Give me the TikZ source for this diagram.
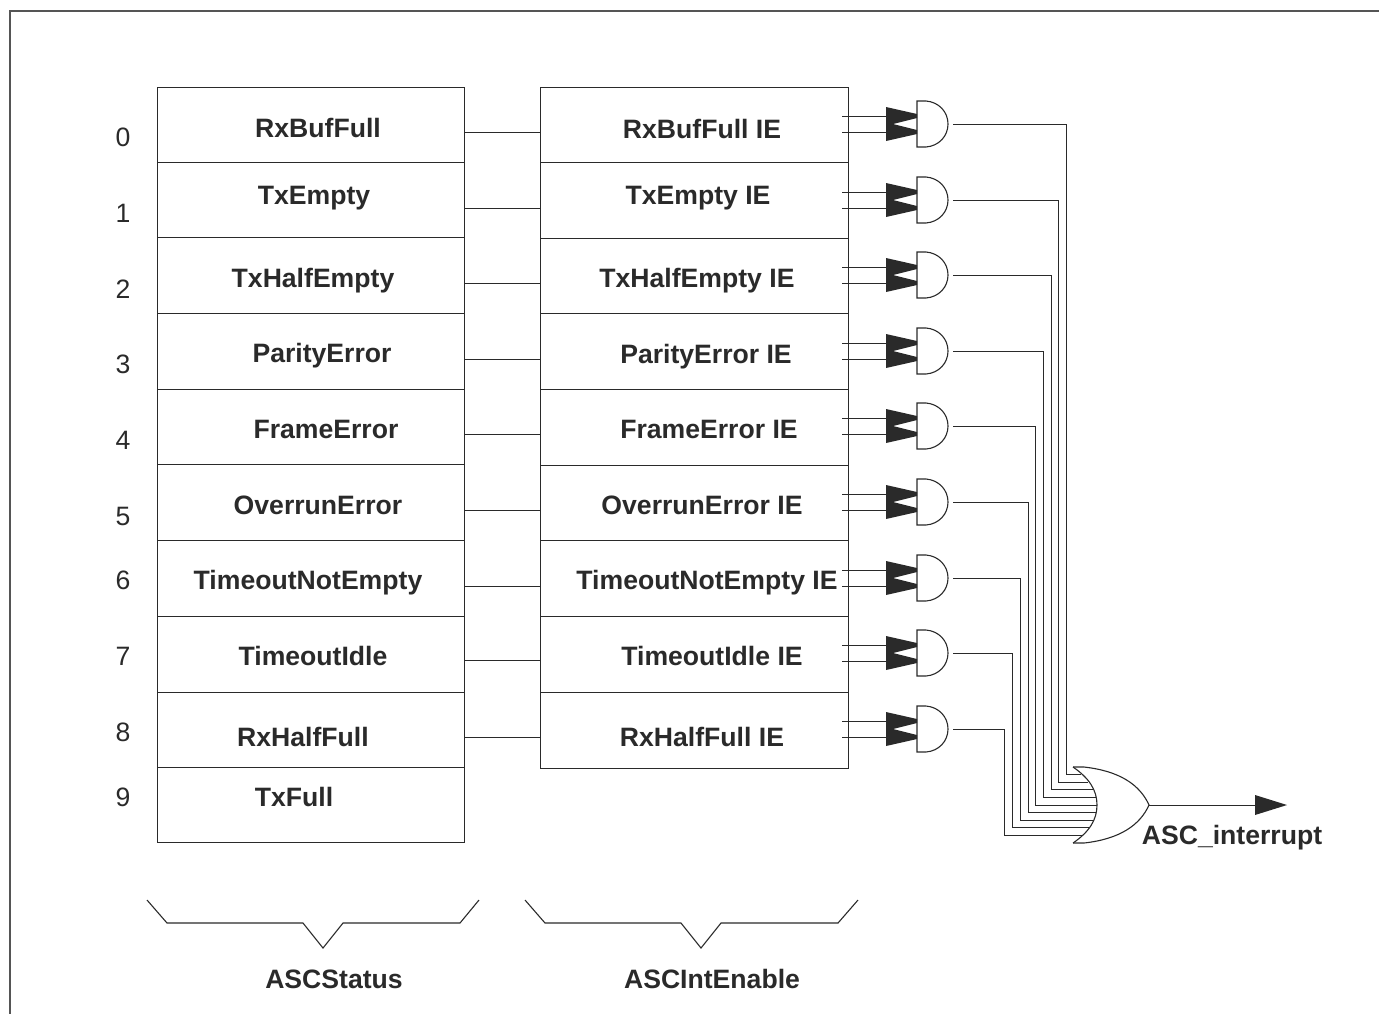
\documentclass[tikz,border=0pt]{standalone}
\usepackage{fontspec}
\setmainfont{Liberation Sans}
\usetikzlibrary{fit}
\definecolor{ink}{HTML}{2A2A2A}
\tikzset{
  wire/.style={draw=ink,line width=0.42pt},
  frameline/.style={draw=ink!80,line width=0.7pt},
  cell/.style={draw=ink,line width=0.45pt,inner sep=0pt,rectangle},
  lbl/.style={text=ink,font=\fontsize{13.3}{15}\selectfont\bfseries,anchor=base,inner sep=0pt},
  num/.style={text=ink,font=\fontsize{13.3}{15}\selectfont,anchor=base,inner sep=0pt},
  gatebox/.style={rectangle,minimum width=18pt,minimum height=23pt,inner sep=0pt},
  tri/.style={fill=ink,draw=none},
  gateline/.style={draw=ink,line width=0.55pt},
  bracket/.style={draw=ink,line width=0.55pt,line join=miter}
}
\begin{document}
\begin{tikzpicture}[x=0.5pt,y=-0.5pt]
\useasboundingbox (0,0) rectangle (1379,1014);
\draw[frameline] (1379,11) -- (10,11) -- (10,1014);
% status register
\foreach \k/\t/\b/\ty/\tx/\n/\ny in {
 0/87/162/137.5/318/RxBufFull/146.5,
 1/162/237/204.5/314/TxEmpty/222.5,
 2/237/313/287.5/313/TxHalfEmpty/298.5,
 3/313/389/362.5/322/ParityError/373.5,
 4/389/464/438.5/326/FrameError/449.5,
 5/464/540/514.5/318/OverrunError/525.5,
 6/540/616/589.5/308/TimeoutNotEmpty/589.5,
 7/616/692/665.5/313/TimeoutIdle/665.5,
 8/692/767/746.5/303/RxHalfFull/741.5,
 9/767/842/806.5/294/TxFull/806.5}{
  \node[cell,fit={(157,\t) (464,\b)}] (s\k) {};
  \node[lbl] (sl\k) at (\tx,\ty) {\n};
  \node[num] (n\k) at (123,\ny) {\k};
}
% enable register
\foreach \k/\t/\b/\ty/\tx/\n in {
 0/87/162/138.5/702/RxBufFull IE,
 1/162/238/204.5/698/TxEmpty IE,
 2/238/313/287.5/697/TxHalfEmpty IE,
 3/313/389/363.5/706/ParityError IE,
 4/389/465/438.5/709/FrameError IE,
 5/465/540/514.5/702/OverrunError IE,
 6/540/616/589.5/707/TimeoutNotEmpty IE,
 7/616/692/665.5/712/TimeoutIdle IE,
 8/692/768/746.5/702/RxHalfFull IE}{
  \node[cell,fit={(540,\t) (848,\b)}] (a\k) {};
  \node[lbl] (al\k) at (\tx,\ty) {\n};
}
% OR gate
\node[rectangle,minimum width=38pt,minimum height=38pt,inner sep=0pt] (or) at (1111,805) {};
\coordinate (ortip) at (1149,805);
\draw[gateline] (1073,767) .. controls (1089,778) and (1097,790) .. (1097,805)
   .. controls (1097,820) and (1089,832) .. (1073,843);
\draw[gateline] (1073,767) -- (1084,767) .. controls (1120,771) and (1140,785) .. (ortip)
   .. controls (1140,825) and (1120,839) .. (1084,843) -- (1073,843);
% AND gates, connectors
\foreach \k/\y/\c/\vx/\oy/\ex in {
 0/124/132/1066/774/1081,
 1/200/208/1058/782/1088,
 2/275/283/1051/789/1093,
 3/351/359/1043/797/1096,
 4/426/434/1035/805/1097,
 5/502/510/1028/812/1096,
 6/578/586/1020/820/1093,
 7/653/660/1012/827/1089,
 8/729/737/1004/835/1082}{
  \coordinate (c\k) at (500,\c);
  \draw[wire] (s\k.east |- c\k) -- (a\k.west |- c\k);
  \node[gatebox] (g\k) at (935,\y) {};
  \coordinate (i\k a) at (842,\y-8);
  \coordinate (i\k b) at (842,\y+8);
  \coordinate (p\k a) at (917,\y-8);
  \coordinate (p\k b) at (917,\y+8);
  \draw[wire] (i\k a) -- (p\k a);
  \draw[wire] (i\k b) -- (p\k b);
  \fill[tri] (886,\y-17) -- (917,\y-10) -- (917,\y-6) -- (893,\y)
     -- (917,\y+6) -- (917,\y+10) -- (886,\y+17) -- cycle;
  \draw[gateline] (926,\y-23) -- (917,\y-23) -- (917,\y+23) -- (926,\y+23)
     .. controls (939,\y+22) and (948,\y+12) .. (948,\y)
     .. controls (948,\y-12) and (939,\y-22) .. (926,\y-23);
  \coordinate (bend\k) at (\vx,\oy);
  \coordinate (end\k) at (\ex,\oy);
  \draw[wire] (g\k.east) -| (bend\k) -- (end\k);
}
% output
\coordinate (outp) at (1256,805);
\coordinate (outend) at (1287,805);
\draw[wire] (ortip) -- (outp);
\fill[tri] (1255,795) -- (outend) -- (1255,815) -- cycle;
\node[lbl] (asci) at (1232,844) {ASC\_interrupt};
% brackets
\coordinate (b1) at (147,900);
\coordinate (b2) at (525,900);
\draw[bracket] (b1) -- (167,923) -- (303,923) -- (323,948) -- (343,923) -- (460,923) -- (479,900);
\draw[bracket] (b2) -- (545,923) -- (681,923) -- (701,948) -- (721,923) -- (838,923) -- (858,900);
\node[lbl] (st) at (334,988) {ASCStatus};
\node[lbl] (en) at (712,988) {ASCIntEnable};
\end{tikzpicture}
\end{document}
